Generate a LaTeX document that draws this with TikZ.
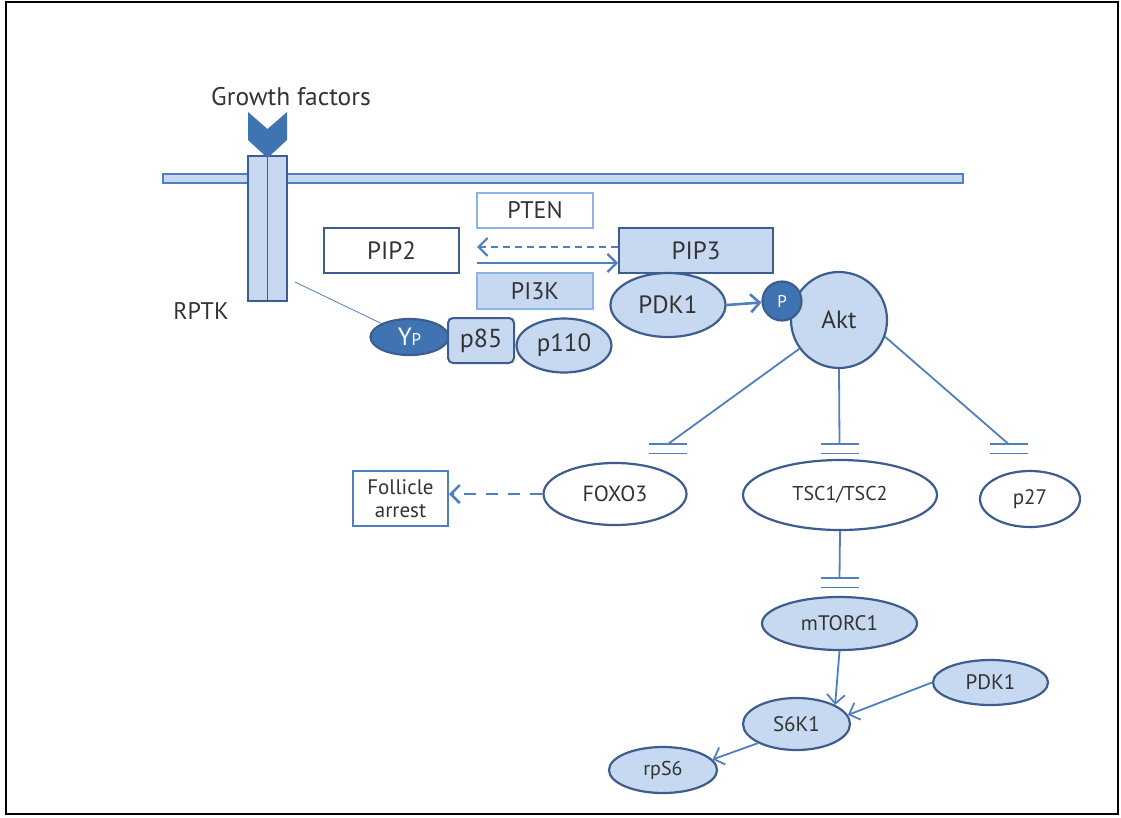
\documentclass[tikz,border=0pt]{standalone}
\usepackage{fontspec}
\setmainfont{PT Sans}
\usetikzlibrary{arrows.meta,shapes.geometric,calc}
\definecolor{lfill}{HTML}{C6D9F1}
\definecolor{dborder}{HTML}{3D5D8F}
\definecolor{lineb}{HTML}{4F7FBE}
\definecolor{dfill}{HTML}{3F73B2}
\definecolor{lborder}{HTML}{8EB4E3}
\definecolor{txt}{HTML}{333333}
\tikzset{
  fs/.style={font=\fontsize{#1}{#1}\selectfont},
  base/.style={inner sep=0pt, text=txt, fs=24},
  ell/.style={base, ellipse, draw=dborder, line width=2.2pt, fill=lfill},
  well/.style={ell, fill=white},
  box/.style={base, rectangle, draw=dborder, line width=2pt, fill=lfill},
  wbox/.style={box, fill=white},
  lbox/.style={box, draw=lborder},
  arr/.style={draw=lineb, line width=2.2pt, -{Straight Barb[length=9pt,width=18pt]}},
  dasharr/.style={arr, dash pattern=on 7pt off 5pt},
  inh/.style={draw=lineb, line width=1.8pt},
  recbox/.style={draw=dborder, line width=1.8pt, fill=lfill, minimum width=19.5, minimum height=145, inner sep=0pt}
}
\begin{document}
\begin{tikzpicture}[x=1pt,y=-1pt]
\useasboundingbox (0,0) rectangle (1121,817);
\draw[black, line width=2.5pt] (6,2) rectangle (1118,814);

% membrane
\draw[draw=lineb, fill=lfill, line width=1.5pt] (163,174) rectangle (963,183);

% receptor
\node[recbox] (rL) at (257.7,228.5) {};
\node[recbox] (rR) at (277.2,228.5) {};
\fill[dfill] (248,112) -- (267.5,129) -- (287,112) -- (287,140) -- (267.5,158) -- (248,140) -- cycle;
\node[base, fs=25.5] (gf) at (291,97) {Growth factors};
\node[base, fs=24] (rptk) at (201,311) {RPTK};

% boxes
\node[wbox, minimum width=135, minimum height=45, fs=25] (pip2) at (391.5,250.5) {PIP2};
\node[lbox, fill=white, minimum width=116, minimum height=35] (pten) at (535,210.5) {PTEN};
\node[lbox, minimum width=116, minimum height=36] (pi3k) at (535,291) {PI3K};
\node[box, minimum width=154, minimum height=45, fs=25] (pip3) at (696,250.5) {PIP3};

\coordinate (yd) at (0,247);
\coordinate (ys) at (0,263);
\coordinate (xl) at (477,0);
\draw[dasharr] (pip3.west |- yd) -- (xl |- yd);
\draw[arr] (xl |- ys) -- (pip3.west |- ys);

% PDK1, P, Akt
\node[ell, minimum width=115, minimum height=64, fs=25] (pdk1) at (668,305) {PDK1};
\node[ell, circle, minimum size=96, fs=25] (akt) at (839,320) {Akt};
\node[ell, circle, fill=dfill, minimum size=39, text=white, fs=17] (pp) at (782,301) {P};
\draw[arr, line width=2.6pt] (pdk1.east) -- (pp);

% YP, p85, p110
\coordinate (rl) at (295,282);
\node[ell, fill=dfill, minimum width=78, minimum height=36, text=white, fs=25] (yp) at (409.5,337) {Y\fontsize{17}{17}\selectfont P};
\draw[draw=lineb, line width=0.8pt] (rl) -- (yp);
\node[box, rounded corners=5pt, minimum width=66, minimum height=45, fs=26] (p85) at (481,340.5) {p85};
\node[ell, minimum width=95, minimum height=54, fs=25] (p110) at (564,345.5) {p110};

% targets
\node[well, minimum width=143, minimum height=62, fs=22] (foxo) at (615,494) {FOXO3};
\node[wbox, draw=lineb, minimum width=95, minimum height=55, align=center, font=\fontsize{21}{23}\selectfont] (fol) at (400.5,498.5) {Follicle\\arrest};
\node[well, minimum width=194, minimum height=70, fs=20] (tsc) at (840,495) {TSC1/TSC2};
\node[well, minimum width=100, minimum height=56, fs=21] (p27) at (1030,499) {p27};

\draw[dasharr, line width=2.6pt, dash pattern=on 12pt off 10pt] (foxo.west) -- (fol.east |- foxo.west);

% inhibitions
\coordinate (fb) at (668,444);
\coordinate (tb) at (839.5,444);
\coordinate (pb) at (1008.5,444);
\coordinate (mb) at (839.5,578);
\draw[inh] (akt) -- (fb);
\draw[inh] (akt.south) -- (tb);
\draw[inh] (akt.-20) -- (pb);
\foreach \c in {fb,tb,pb,mb}{
  \draw[inh] ($(\c)+(-19,0)$) -- ($(\c)+(19,0)$);
  \draw[inh] ($(\c)+(-19,9.5)$) -- ($(\c)+(19,9.5)$);
}

% lower cascade
\node[ell, minimum width=155, minimum height=53, fs=21] (mtor) at (839.5,623.5) {mTORC1};
\draw[inh] (tsc.south) -- (mb);
\node[ell, minimum width=115, minimum height=45, fs=21] (pdkb) at (990.5,682.5) {PDK1};
\node[ell, minimum width=107, minimum height=52, fs=21] (s6k) at (796.5,724) {S6K1};
\node[ell, minimum width=108, minimum height=46, fs=20] (rps) at (663,770) {rpS6};

\draw[arr, line width=1.8pt] (mtor.south) -- (s6k.north east);
\draw[arr, line width=1.8pt] (pdkb.west) -- (s6k.10);
\draw[arr, line width=1.8pt] (s6k.south west) -- (rps.12);
\end{tikzpicture}
\end{document}
